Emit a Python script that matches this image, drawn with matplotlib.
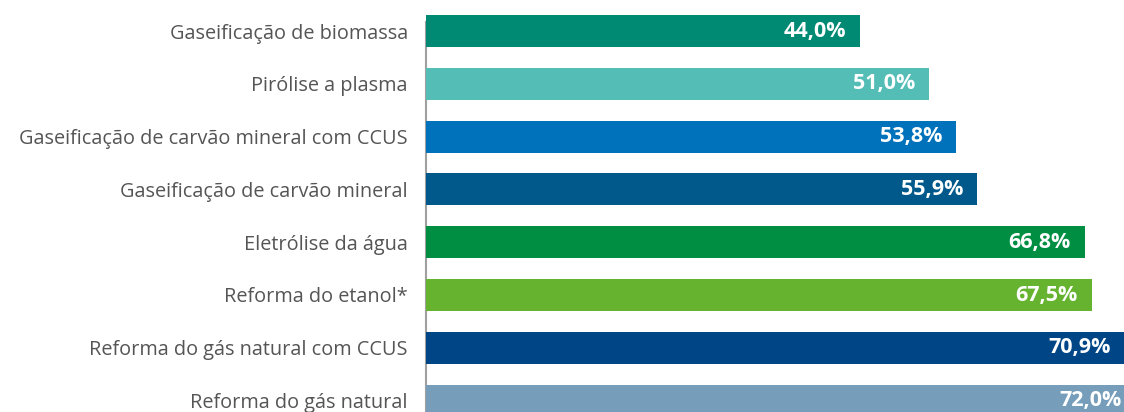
import matplotlib
matplotlib.use("Agg")
import matplotlib.pyplot as plt

categories = [
    "Gaseificação de biomassa",
    "Pirólise a plasma",
    "Gaseificação de carvão mineral com CCUS",
    "Gaseificação de carvão mineral",
    "Eletrólise da água",
    "Reforma do etanol*",
    "Reforma do gás natural com CCUS",
    "Reforma do gás natural",
]
values = [44.0, 51.0, 53.8, 55.9, 66.8, 67.5, 70.9, 72.0]
colors = ["#008A73", "#53BDB6", "#0071BB", "#00598A", "#008F42", "#66B32F", "#004586", "#769DBA"]

plt.rcParams['font.family'] = ['Open Sans', 'DejaVu Sans']

W, H = 1124, 412
fig = plt.figure(figsize=(W / 100, H / 100), dpi=100)

px_per_unit = 9.86
x0 = 426
pitch = 52.8
c0 = 31
ax = fig.add_axes([x0 / W, 0, 72 * px_per_unit / W, 1])
ax.set_xlim(0, 72)
ax.set_ylim((H - c0) / pitch, -c0 / pitch)

pos = list(range(len(values)))
ax.barh(pos, values, height=32 / pitch, color=colors, zorder=2)

for p, v in zip(pos, values):
    ax.text(v - 14 / px_per_unit, p, f"{v:.1f}%".replace(".", ","), ha="right", va="center",
            color="white", fontsize=15.5, fontweight="bold", zorder=3)

ax.set_yticks(pos)
ax.set_yticklabels(categories, fontsize=14.3, color="#555555")
ax.tick_params(axis="y", length=0, pad=13)
ax.set_xticks([])
for s in ["top", "right", "bottom"]:
    ax.spines[s].set_visible(False)
ax.spines["left"].set_color("#A0A0A0")
ax.spines["left"].set_linewidth(1.5)
ax.spines["left"].set_bounds((22 - c0) / pitch, (H - c0) / pitch)
ax.spines["left"].set_zorder(1)

fig.savefig("out.png", dpi=100)
